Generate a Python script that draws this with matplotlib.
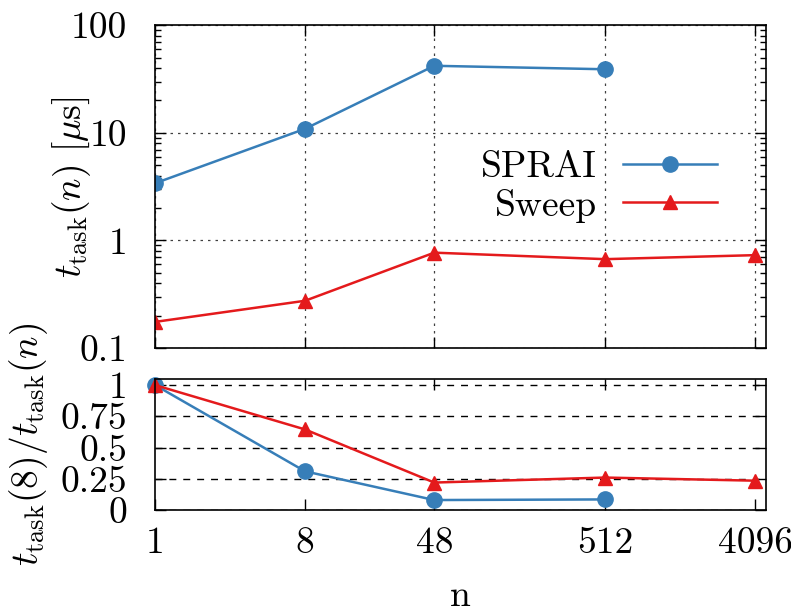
import matplotlib
matplotlib.use("Agg")
import matplotlib.pyplot as plt
from matplotlib.ticker import FixedLocator, NullFormatter, LogLocator, NullLocator

plt.rcParams["font.family"] = "serif"
plt.rcParams["font.serif"] = ["cmr10"]
plt.rcParams["mathtext.fontset"] = "cm"
plt.rcParams["axes.unicode_minus"] = False

# data ---------------------------------------------------------------
n_sprai = [1, 8, 48, 512]
t_sprai = [3.4, 10.9, 42.0, 39.0]
n_sweep = [1, 8, 48, 512, 4096]
t_sweep = [0.175, 0.275, 0.77, 0.67, 0.73]

r_sprai = [1.0, 0.31, 0.08, 0.085]
r_sweep = [1.0, 0.645, 0.22, 0.26, 0.235]

xticks = [1, 8, 48, 512, 4096]
xticklabels = ["1", "8", "48", "512", "4096"]
yticks_top = [0.1, 1, 10, 100]
yticklabels_top = ["0.1", "1", "10", "100"]
yticks_bot = [0, 0.25, 0.5, 0.75, 1]
yticklabels_bot = ["0", "0.25", "0.5", "0.75", "1"]

BLUE = "#377eb8"
RED = "#e41a1c"
FS = 27

fig = plt.figure(figsize=(7.91, 6.16), dpi=100)
ax1 = fig.add_axes([0.196, 0.435, 0.772, 0.524])
ax2 = fig.add_axes([0.196, 0.172, 0.772, 0.213])

for ax in (ax1, ax2):
    ax.set_xscale("log")
    ax.set_xlim(1, 4750)
    ax.xaxis.set_major_locator(FixedLocator(xticks))
    ax.xaxis.set_minor_locator(NullLocator())
    ax.tick_params(which="both", direction="in", top=True, right=True,
                   labelsize=FS, width=1.0)
    ax.tick_params(which="major", length=8)
    ax.tick_params(which="minor", length=4)
    for s in ax.spines.values():
        s.set_linewidth(1.2)

# top panel
ax1.plot(n_sprai, t_sprai, color=BLUE, lw=1.8, marker="o", ms=11, label="SPRAI")
ax1.plot(n_sweep, t_sweep, color=RED, lw=1.8, marker="^", ms=10, label="Sweep")
ax1.set_yscale("log")
ax1.set_ylim(0.1, 100)
ax1.yaxis.set_major_locator(FixedLocator(yticks_top))
ax1.set_yticklabels(yticklabels_top)
ax1.yaxis.set_minor_locator(LogLocator(base=10, subs=range(2, 10)))
ax1.yaxis.set_minor_formatter(NullFormatter())
ax1.xaxis.set_major_formatter(NullFormatter())
ax1.tick_params(axis="y", pad=20)
ax1.grid(True, which="major", color="0.25", lw=0.9, ls=(0, (2, 4)))
ax1.set_ylabel(r"$t_{\rm task}(n)\ [\mu{\rm s}]$", fontsize=FS)
ax1.yaxis.set_label_coords(-0.101, 0.5)
ax1.legend(loc="center right", bbox_to_anchor=(0.975, 0.5), frameon=False,
           markerfirst=False, fontsize=FS, handlelength=2.5,
           labelspacing=0.12, handletextpad=0.7)

# bottom panel
ax2.plot(n_sprai, r_sprai, color=BLUE, lw=1.8, marker="o", ms=11, clip_on=False)
ax2.plot(n_sweep, r_sweep, color=RED, lw=1.8, marker="^", ms=10, clip_on=False)
ax2.set_ylim(0, 1.05)
ax2.yaxis.set_major_locator(FixedLocator(yticks_bot))
ax2.set_yticklabels(yticklabels_bot)
ax2.set_xticklabels(xticklabels)
ax2.tick_params(axis="x", pad=12)
ax2.tick_params(axis="y", pad=20)
ax2.grid(True, axis="y", color="black", lw=1.0, ls=(0, (5, 5)))
ax2.set_ylabel(r"$t_{\rm task}(8)/t_{\rm task}(n)$", fontsize=FS)
ax2.yaxis.set_label_coords(-0.172, 0.5)
ax2.set_xlabel("n", fontsize=FS, labelpad=14)

fig.savefig("out.png", dpi=100)
